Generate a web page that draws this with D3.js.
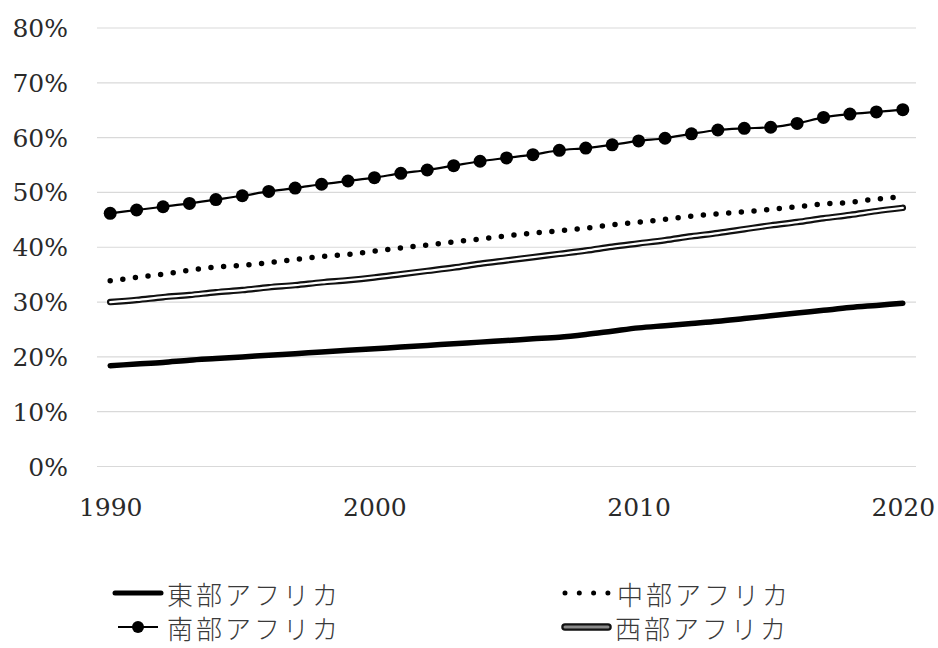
<!DOCTYPE html>
<html lang="ja">
<head>
<meta charset="utf-8">
<script src="https://cdn.jsdelivr.net/npm/d3@7"></script>
<style>
  html, body { margin: 0; padding: 0; background: #fff; }
  svg { display: block; }
  .tick text { font-family: "DejaVu Serif", serif; font-size: 25px; fill: #2a2a2a; }
  .legend text { font-family: "Noto Sans CJK JP", sans-serif; font-size: 26px; font-weight: 300; letter-spacing: 3px; fill: #3a3a3a; }
</style>
</head>
<body>
<svg id="chart" width="938" height="648"></svg>
<script>
// Share of population by African sub-region, 1990–2020 (%)
const years = d3.range(1990, 2021);
const xTickLabels = [1990, 2000, 2010, 2020];
const yTickLabels = [0, 10, 20, 30, 40, 50, 60, 70, 80];

const seriesNames = ["東部アフリカ", "中部アフリカ", "南部アフリカ", "西部アフリカ"];

const eastValues = [18.3, 18.6, 18.9, 19.3, 19.6, 19.9, 20.2, 20.5, 20.8, 21.1,
                    21.4, 21.7, 22.0, 22.3, 22.6, 22.9, 23.2, 23.5, 24.0, 24.6,
                    25.2, 25.6, 26.0, 26.4, 26.9, 27.4, 27.9, 28.4, 28.9, 29.3, 29.7];
const centralValues = [33.8, 34.4, 35.0, 35.7, 36.3, 36.6, 37.1, 37.7, 38.2, 38.6,
                       39.2, 39.8, 40.3, 40.9, 41.4, 42.0, 42.5, 42.9, 43.4, 44.0,
                       44.5, 45.0, 45.6, 46.0, 46.4, 46.8, 47.3, 47.8, 48.1, 48.7, 49.1];
const southValues = [46.1, 46.7, 47.3, 47.9, 48.6, 49.3, 50.1, 50.7, 51.4, 52.0,
                     52.6, 53.4, 54.0, 54.8, 55.6, 56.2, 56.8, 57.6, 58.0, 58.6,
                     59.3, 59.8, 60.6, 61.3, 61.6, 61.8, 62.5, 63.6, 64.2, 64.6, 65.0];
const westValues = [29.9, 30.3, 30.8, 31.2, 31.7, 32.1, 32.6, 33.0, 33.5, 33.9,
                    34.4, 35.0, 35.6, 36.2, 36.9, 37.5, 38.1, 38.7, 39.3, 40.0,
                    40.6, 41.2, 41.9, 42.5, 43.2, 43.9, 44.5, 45.2, 45.8, 46.5, 47.1];

const svg = d3.select("#chart");
const plotLeft = 97, plotRight = 916, plotTop = 27.5, plotBottom = 466;

const x = d3.scalePoint().domain(years).range([plotLeft, plotRight]).padding(0.5);
const y = d3.scaleLinear().domain([0, 80]).range([plotBottom, plotTop]);

// Horizontal gridlines and percentage labels
const yAxis = svg.append("g")
  .attr("transform", `translate(${plotLeft},0)`)
  .call(d3.axisLeft(y)
    .tickValues(yTickLabels)
    .tickSizeInner(-(plotRight - plotLeft))
    .tickSizeOuter(0)
    .tickPadding(29)
    .tickFormat(d => d + "%"));
yAxis.select(".domain").remove();
yAxis.selectAll(".tick line").attr("stroke", "#d9d9d9").attr("stroke-width", 1.2);
yAxis.selectAll(".tick text").attr("dy", "0.36em");

// Year labels
const xAxis = svg.append("g")
  .attr("transform", `translate(0,${plotBottom})`)
  .call(d3.axisBottom(x)
    .tickValues(xTickLabels)
    .tickSize(0)
    .tickPadding(32));
xAxis.select(".domain").remove();

const line = d3.line()
  .x((d, i) => x(years[i]))
  .y(d => y(d))
  .curve(d3.curveMonotoneX);

const plot = svg.append("g");

// 西部: double line (black outline, white core)
plot.append("path").datum(westValues).attr("d", line)
  .attr("fill", "none").attr("stroke", "#111").attr("stroke-width", 6.5)
  .attr("stroke-linecap", "round").attr("stroke-linejoin", "round");
plot.append("path").datum(westValues).attr("d", line)
  .attr("fill", "none").attr("stroke", "#fff").attr("stroke-width", 2.2)
  .attr("stroke-linecap", "round").attr("stroke-linejoin", "round");

// 中部: round dots
plot.append("path").datum(centralValues).attr("d", line)
  .attr("fill", "none").attr("stroke", "#000").attr("stroke-width", 5.5)
  .attr("stroke-linecap", "round").attr("stroke-dasharray", "0 12.7");

// 東部: thick solid
plot.append("path").datum(eastValues).attr("d", line)
  .attr("fill", "none").attr("stroke", "#000").attr("stroke-width", 5.5)
  .attr("stroke-linecap", "round").attr("stroke-linejoin", "round");

// 南部: thin line with circle markers
plot.append("path").datum(southValues).attr("d", line)
  .attr("fill", "none").attr("stroke", "#000").attr("stroke-width", 2.2);
plot.append("g").selectAll("circle").data(southValues).join("circle")
  .attr("cx", (d, i) => x(years[i]))
  .attr("cy", d => y(d))
  .attr("r", 6.5)
  .attr("fill", "#000");

// Legend
const legend = svg.append("g").attr("class", "legend");
const legendItems = [
  { name: seriesNames[0], x0: 115, x1: 161, ty: 593, tx: 167, kind: "east" },
  { name: seriesNames[1], x0: 565, x1: 608, ty: 593, tx: 617, kind: "central" },
  { name: seriesNames[2], x0: 118, x1: 158, ty: 627, tx: 167, kind: "south" },
  { name: seriesNames[3], x0: 565, x1: 608, ty: 627, tx: 615, kind: "west" }
];
legendItems.forEach(it => {
  const g = legend.append("g");
  const ly = it.ty;
  if (it.kind === "east") {
    g.append("line").attr("x1", it.x0).attr("x2", it.x1).attr("y1", ly).attr("y2", ly)
      .attr("stroke", "#000").attr("stroke-width", 5).attr("stroke-linecap", "round");
  } else if (it.kind === "central") {
    g.append("line").attr("x1", it.x0).attr("x2", it.x1 + 1).attr("y1", ly).attr("y2", ly)
      .attr("stroke", "#000").attr("stroke-width", 5).attr("stroke-linecap", "round")
      .attr("stroke-dasharray", "0 14.3");
  } else if (it.kind === "south") {
    g.append("line").attr("x1", it.x0).attr("x2", it.x1).attr("y1", ly).attr("y2", ly)
      .attr("stroke", "#000").attr("stroke-width", 2.2);
    g.append("circle").attr("cx", (it.x0 + it.x1) / 2).attr("cy", ly).attr("r", 6).attr("fill", "#000");
  } else {
    g.append("line").attr("x1", it.x0).attr("x2", it.x1).attr("y1", ly).attr("y2", ly)
      .attr("stroke", "#111").attr("stroke-width", 7.5).attr("stroke-linecap", "round");
    g.append("line").attr("x1", it.x0).attr("x2", it.x1).attr("y1", ly).attr("y2", ly)
      .attr("stroke", "#8a8a8a").attr("stroke-width", 3).attr("stroke-linecap", "round");
  }
  g.append("text").attr("x", it.tx).attr("y", it.ty)
    .attr("dominant-baseline", "central")
    .text(it.name);
});
</script>
</body>
</html>
